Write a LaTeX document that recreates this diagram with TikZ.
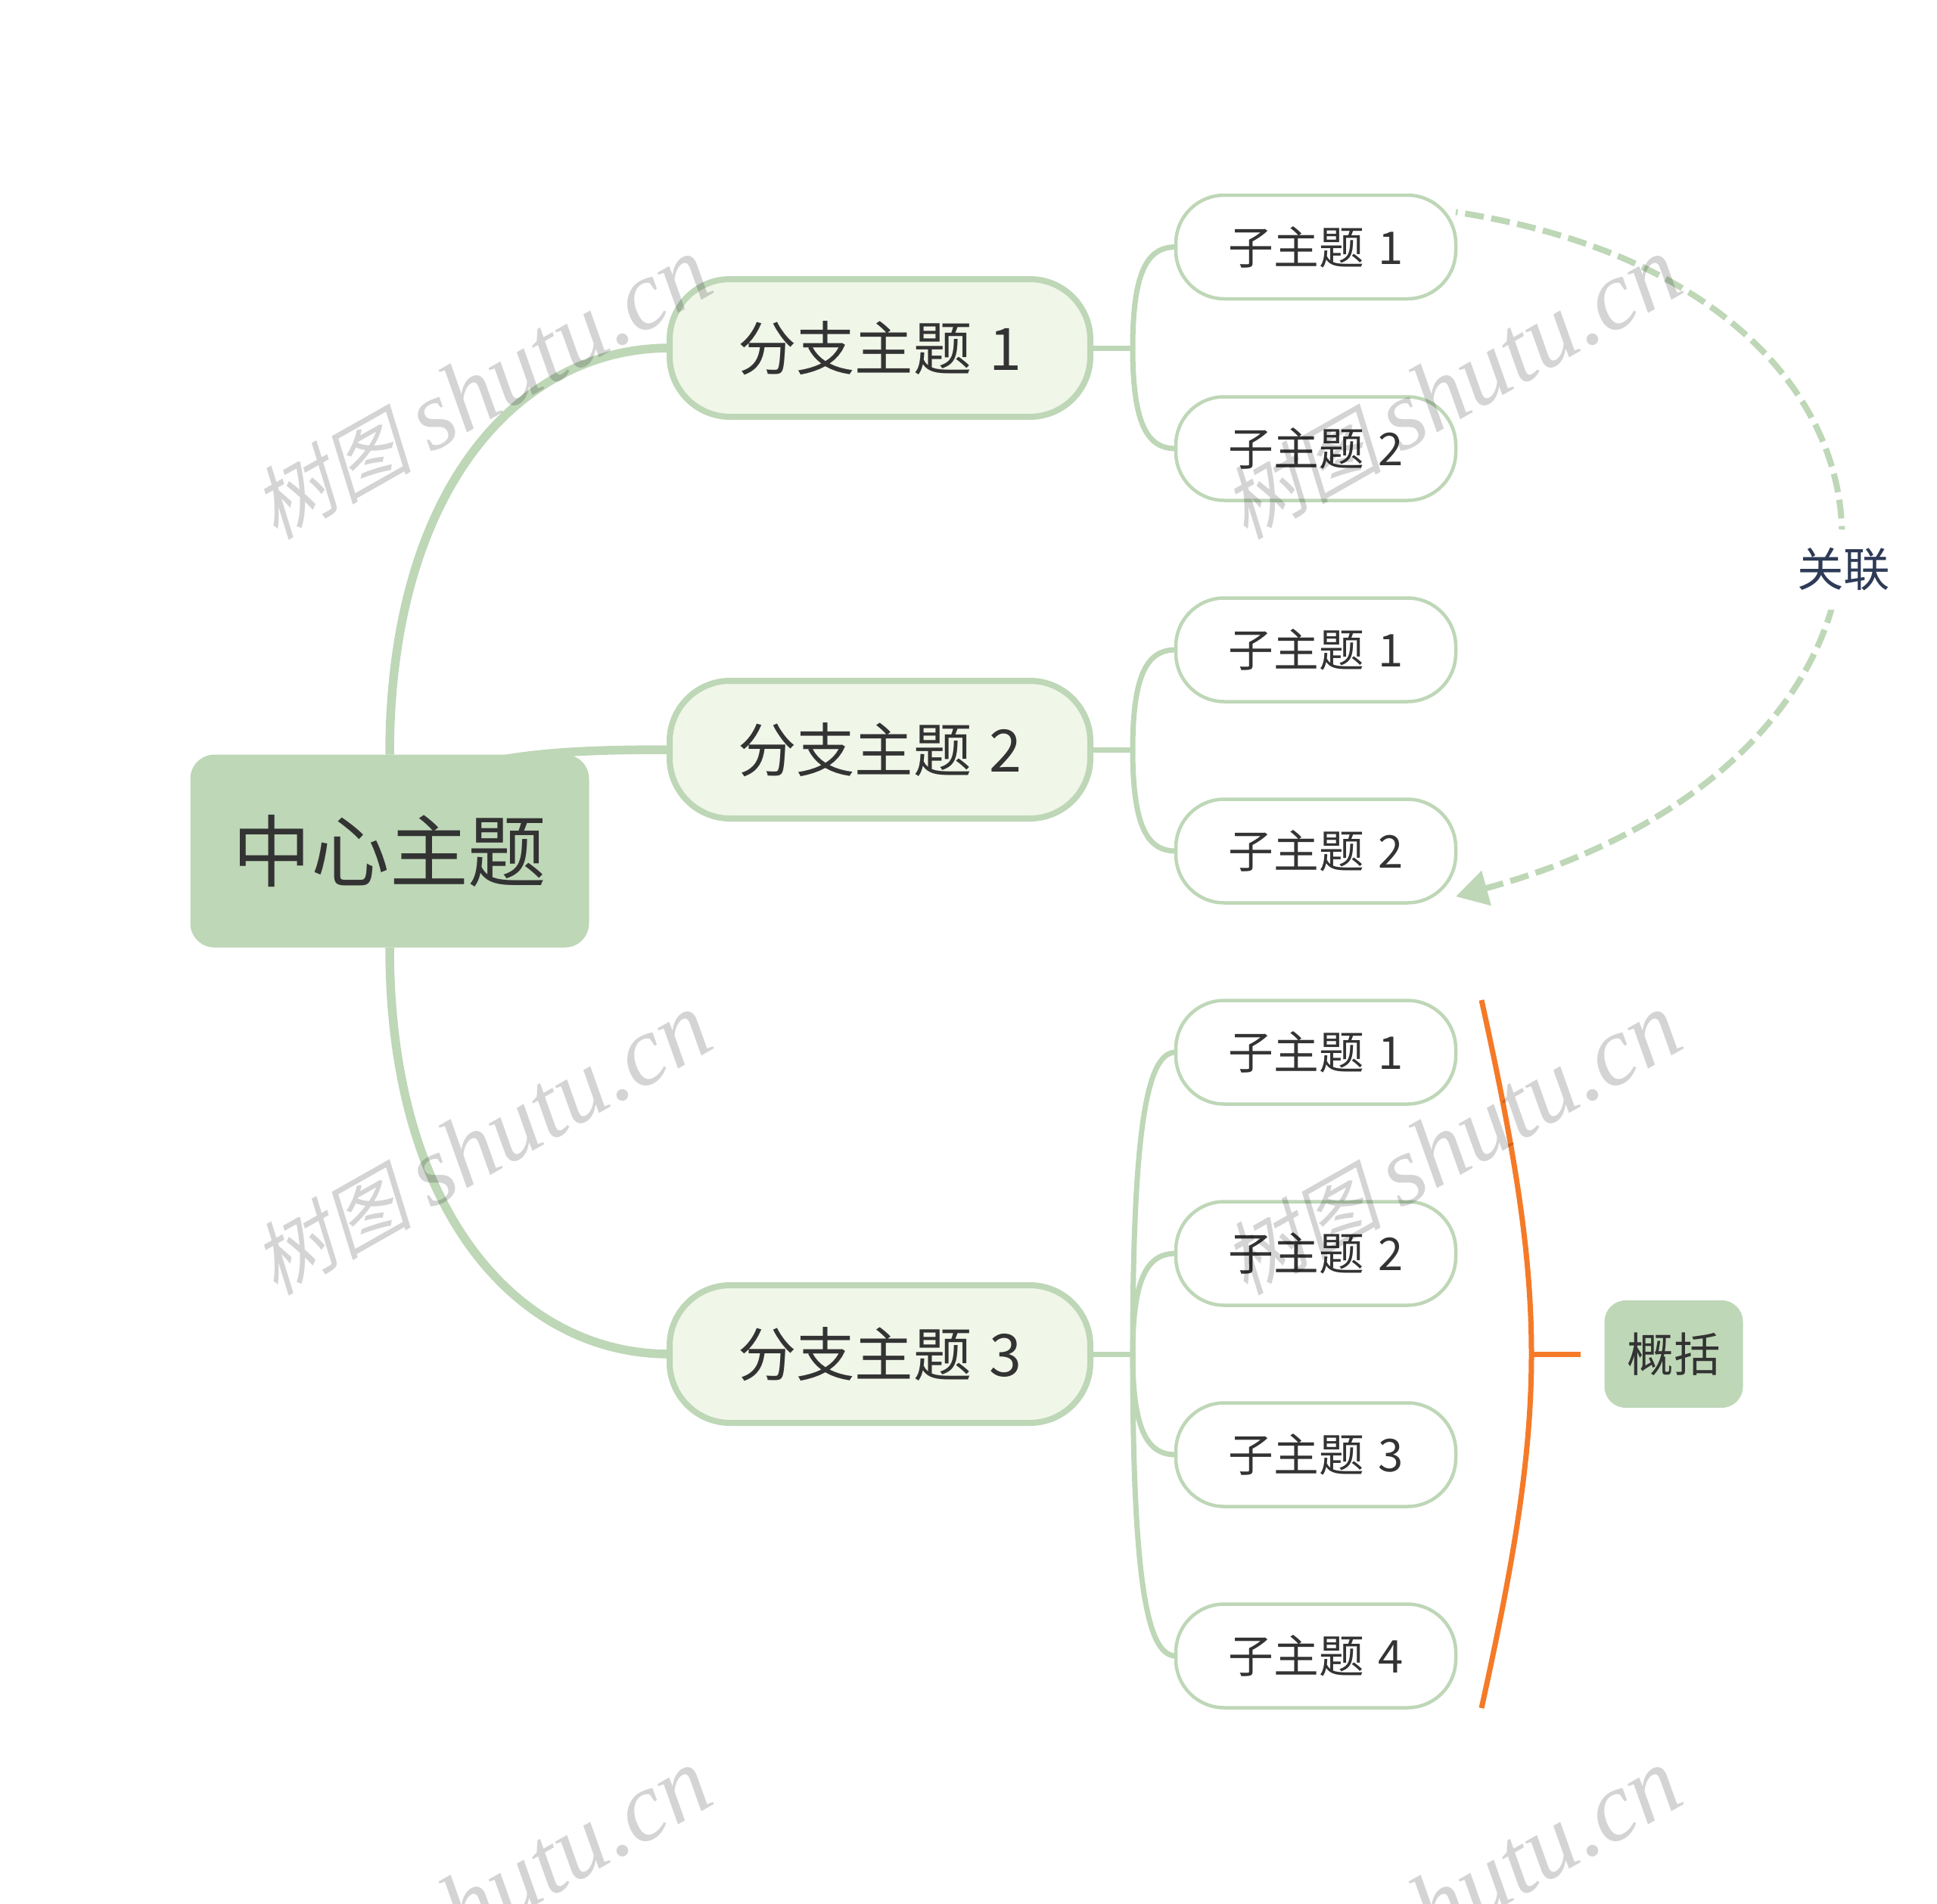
\documentclass[tikz,border=0pt]{standalone}
\usepackage{fontspec}
\usetikzlibrary{calc}
\usetikzlibrary{backgrounds}
\usetikzlibrary{arrows.meta}
\setmainfont[WordSpace=1.35]{Noto Sans CJK SC}
\newfontfamily\markcjk[FakeSlant=0.22]{Noto Sans CJK SC}
\newfontfamily\marklatin{Liberation Serif Italic}
\definecolor{sage}{HTML}{BED7B7}
\definecolor{pale}{HTML}{F0F6E8}
\definecolor{ink}{HTML}{333333}
\definecolor{navy}{HTML}{2E3B57}
\definecolor{amber}{HTML}{F57A28}
\tikzset{
  hubbox/.style={draw=none, fill=sage, rounded corners=0.32cm, minimum width=5.27cm, minimum height=2.55cm, outer sep=0pt, text=ink, font=\fontsize{29.5}{29.5}\selectfont},
  armbox/.style={draw=sage, line width=0.08cm, fill=pale, rounded corners=0.8cm, minimum width=5.56cm, minimum height=1.82cm, outer sep=0pt, text=ink, font=\fontsize{22}{22}\selectfont},
  leafbox/.style={draw=sage, line width=0.045cm, fill=white, rounded corners=0.64cm, minimum width=3.7cm, minimum height=1.37cm, outer sep=0pt, text=ink, font=\fontsize{17}{17}\selectfont},
  gistbox/.style={draw=none, fill=sage, rounded corners=0.28cm, minimum width=1.83cm, minimum height=1.42cm, outer sep=0pt, text=ink, font=\fontsize{17.5}{17.5}\selectfont},
  hubline/.style={draw=sage, line width=0.115cm},
  armline/.style={draw=sage, line width=0.07cm},
  markbox/.style={rotate=29.5, text=black, text opacity=0.17, inner sep=0pt},
}

\begin{document}
\begin{tikzpicture}[>=Triangle]

  \useasboundingbox (0,0) rectangle (25.6,-25.16);

  % Centre and branches
  \node[hubbox] (hub) at (5.15,-11.25) {中心主题};
  \node[armbox] (arm1) at (11.63,-4.6) {分支主题 1};
  \node[armbox] (arm2) at (11.63,-9.91) {分支主题 2};
  \node[armbox] (arm3) at (11.63,-17.9) {分支主题 3};

  % Leaves
  \node[leafbox] (leaf1) at (17.39,-3.265) {子主题 1};
  \node[leafbox] (leaf2) at (17.39,-5.93) {子主题 2};
  \node[leafbox] (leaf3) at (17.39,-8.59) {子主题 1};
  \node[leafbox] (leaf4) at (17.39,-11.25) {子主题 2};
  \node[leafbox] (leaf5) at (17.39,-13.91) {子主题 1};
  \node[leafbox] (leaf6) at (17.39,-16.57) {子主题 2};
  \node[leafbox] (leaf7) at (17.39,-19.23) {子主题 3};
  \node[leafbox] (leaf8) at (17.39,-21.89) {子主题 4};

  % Summary
  \node[gistbox] (gist) at (22.12,-17.9) {概括};
  \coordinate (bracetop) at (19.58,-13.22);
  \coordinate (bracemid) at (20.24,-17.9);
  \coordinate (bracelow) at (19.58,-22.58);

  % Forks
  \coordinate (fork1) at (14.97,-4.6);
  \coordinate (fork2) at (14.97,-9.91);
  \coordinate (fork3) at (14.97,-17.9);

  \begin{pgfonlayer}{background}
    \draw[hubline] (hub.north) .. controls +(0,3.5) and +(-2.0,0) .. (arm1.west);
    \draw[hubline] (hub.center) .. controls +(0,1.25) and +(-1.83,0) .. (arm2.west);
    \draw[hubline] (hub.south) .. controls +(0,-3.5) and +(-2.0,0) .. (arm3.west);

    \foreach \arm in {1,2,3}
      \draw[armline] (arm\arm.east) -- (fork\arm);
    \foreach \fork/\leaf in {1/1,1/2,2/3,2/4,3/5,3/6,3/7,3/8}
      \draw[armline] (fork\fork) .. controls ($(fork\fork)!0.8!(fork\fork|-leaf\leaf)$) and +(-0.35,0) .. (leaf\leaf.west);
  \end{pgfonlayer}

  % Relation
  \draw[sage, line width=0.08cm, dash pattern=on 0.25cm off 0.1cm, {Triangle[length=0.42cm,width=0.46cm]}-{}] (leaf4.-18) .. controls (25.98,-10.01) and (25.98,-3.84) .. (leaf1.14)
    node[pos=0.456, fill=white, inner xsep=0pt, inner ysep=0.25cm, xshift=0.11cm, text=navy, font=\fontsize{17.5}{17.5}\selectfont] (link) {关联};

  % Summary brace
  \draw[amber, line width=0.07cm] (bracetop) .. controls (20.46,-17.22) and (20.46,-18.58) .. (bracelow);
  \draw[amber, line width=0.07cm, shorten >=0.32cm] (bracemid) -- (gist.west);

  % Watermarks
  \foreach \col/\x in {1/6.37,2/19.19}
    \foreach \row/\y in {1/-5.14,2/-15.13,3/-25.12}
      \node[markbox] (mark\col\row) at (\x,\y) {\markcjk\fontsize{30}{30}\selectfont 树图 \marklatin\fontsize{37}{37}\selectfont shutu.cn};

\end{tikzpicture}
\end{document}
